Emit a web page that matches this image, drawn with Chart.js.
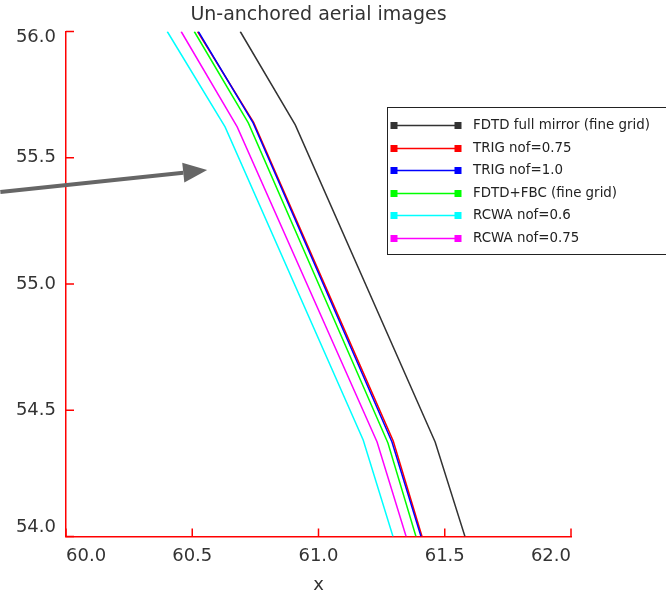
<!DOCTYPE html>
<html>
<head>
<meta charset="utf-8">
<script src="https://cdn.jsdelivr.net/npm/chart.js@4.4.0/dist/chart.umd.min.js"></script>
<style>
  html, body { margin: 0; padding: 0; background: #fff; }
</style>
</head>
<body>
<canvas id="chart" width="666" height="596"></canvas>
<script>
'use strict';

// Axis ticks
const xTicks = [60.0, 60.5, 61.0, 61.5, 62.0];
const yTicks = [54.0, 54.5, 55.0, 55.5, 56.0];

// Series names and colours (legend order)
const seriesNames = [
    'FDTD full mirror (fine grid)',
    'TRIG nof=0.75',
    'TRIG nof=1.0',
    'FDTD+FBC (fine grid)',
    'RCWA nof=0.6',
    'RCWA nof=0.75'
];
const seriesColors = ['#333333', '#ff0000', '#0000ff', '#00ff00', '#00ffff', '#ff00ff'];

// Image edge positions
const mirrorX = [60.690, 60.908, 61.462, 61.580];
const mirrorY = [56.0, 55.630, 54.374, 54.0];
const trig075X = [60.521, 60.743, 61.296, 61.410];
const trig075Y = [56.0, 55.640, 54.378, 54.0];
const trig10X = [60.524, 60.741, 61.291, 61.406];
const trig10Y = [56.0, 55.638, 54.374, 54.0];
const fbcX = [60.508, 60.722, 61.275, 61.386];
const fbcY = [56.0, 55.638, 54.370, 54.0];
const rcwa06X = [60.401, 60.630, 61.177, 61.295];
const rcwa06Y = [56.0, 55.622, 54.382, 54.0];
const rcwa075X = [60.456, 60.678, 61.232, 61.347];
const rcwa075Y = [56.0, 55.622, 54.374, 54.0];

// Annotation arrow (data coordinates: tail, tip)
const arrowTail = [59.74, 55.364];
const arrowTip = [60.559, 55.451];

const seriesX = [mirrorX, trig075X, trig10X, fbcX, rcwa06X, rcwa075X];
const seriesY = [mirrorY, trig075Y, trig10Y, fbcY, rcwa06Y, rcwa075Y];

const FONT = '"DejaVu Sans", sans-serif';
const TEXT = '#333333';

function toPoints(xs, ys) {
    return xs.map((x, i) => ({ x: x, y: ys[i] }));
}

const datasets = seriesNames.map((name, i) => ({
    label: name,
    data: toPoints(seriesX[i], seriesY[i]),
    borderColor: seriesColors[i],
    backgroundColor: seriesColors[i],
    borderWidth: 1.5,
    pointRadius: 0,
    tension: 0,
    order: seriesNames.length - i
}));

// Inward red ticks and the y labels
const axisTicks = {
    id: 'axisTicks',
    afterDraw(chart) {
        const { ctx, chartArea: area, scales: { x, y } } = chart;
        ctx.save();
        ctx.strokeStyle = '#ff0000';
        ctx.lineWidth = 1.5;
        ctx.beginPath();
        xTicks.forEach(v => {
            const px = x.getPixelForValue(v);
            ctx.moveTo(px, area.bottom);
            ctx.lineTo(px, area.bottom - 8);
        });
        yTicks.forEach(v => {
            const py = y.getPixelForValue(v);
            ctx.moveTo(area.left, py);
            ctx.lineTo(area.left + 8, py);
        });
        ctx.stroke();

        ctx.fillStyle = TEXT;
        ctx.font = '18px ' + FONT;
        ctx.textAlign = 'right';
        ctx.textBaseline = 'middle';
        yTicks.forEach((v, i) => {
            let py = y.getPixelForValue(v);
            if (i === 0) py -= 9;
            if (i === yTicks.length - 1) py += 6;
            ctx.fillText(v.toFixed(1), area.left - 10, py);
        });
        ctx.restore();
    }
};

// Gray arrow pointing at the curves
const arrowPlugin = {
    id: 'arrow',
    afterDraw(chart) {
        const { ctx, scales: { x, y } } = chart;
        const x0 = x.getPixelForValue(arrowTail[0]);
        const y0 = y.getPixelForValue(arrowTail[1]);
        const x1 = x.getPixelForValue(arrowTip[0]);
        const y1 = y.getPixelForValue(arrowTip[1]);
        const ang = Math.atan2(y1 - y0, x1 - x0);
        const headLen = 24;
        const headW = 10;
        const bx = x1 - headLen * Math.cos(ang);
        const by = y1 - headLen * Math.sin(ang);
        ctx.save();
        ctx.strokeStyle = '#666666';
        ctx.fillStyle = '#666666';
        ctx.lineWidth = 4;
        ctx.beginPath();
        ctx.moveTo(x0, y0);
        ctx.lineTo(bx, by);
        ctx.stroke();
        ctx.beginPath();
        ctx.moveTo(x1, y1);
        ctx.lineTo(bx + headW * Math.sin(ang), by - headW * Math.cos(ang));
        ctx.lineTo(bx - headW * Math.sin(ang), by + headW * Math.cos(ang));
        ctx.closePath();
        ctx.fill();
        ctx.restore();
    }
};

// Boxed legend with a line and two square markers per entry
const boxLegend = {
    id: 'boxLegend',
    afterDraw(chart) {
        const { ctx } = chart;
        const left = 387, top = 107, rowH = 22.6, firstRow = 125;
        ctx.save();
        ctx.fillStyle = '#ffffff';
        ctx.fillRect(left, top, 300, 147);
        ctx.strokeStyle = '#222222';
        ctx.lineWidth = 1;
        ctx.strokeRect(left + 0.5, top + 0.5, 300, 147);
        ctx.font = '13.4px ' + FONT;
        ctx.textAlign = 'left';
        ctx.textBaseline = 'middle';
        chart.data.datasets.forEach((ds, i) => {
            const ry = Math.round(firstRow + i * rowH) + 0.5;
            ctx.strokeStyle = ds.borderColor;
            ctx.fillStyle = ds.borderColor;
            ctx.lineWidth = 1.5;
            ctx.beginPath();
            ctx.moveTo(394, ry);
            ctx.lineTo(458, ry);
            ctx.stroke();
            ctx.fillRect(390.5, ry - 3.5, 7, 7);
            ctx.fillRect(454.5, ry - 3.5, 7, 7);
            ctx.fillStyle = '#222222';
            ctx.fillText(ds.label, 473, ry);
        });
        ctx.restore();
    }
};

new Chart(document.getElementById('chart'), {
    type: 'line',
    data: { datasets: datasets },
    plugins: [axisTicks, arrowPlugin, boxLegend],
    options: {
        responsive: false,
        animation: false,
        layout: { padding: { left: 0, right: 95, top: 0, bottom: 0 } },
        plugins: {
            legend: { display: false },
            tooltip: { enabled: false },
            title: {
                display: true,
                fullSize: false,
                text: 'Un-anchored aerial images',
                color: TEXT,
                font: { family: FONT, size: 19, weight: 'normal', lineHeight: 1.2 },
                padding: { top: 3.7, bottom: 5 }
            }
        },
        scales: {
            x: {
                type: 'linear',
                min: 60,
                max: 62,
                afterBuildTicks: s => { s.ticks = xTicks.map(v => ({ value: v })); },
                afterFit: s => { s.height = 59.5; },
                grid: { display: false, drawTicks: false },
                border: { color: '#ff0000', width: 1.5 },
                ticks: {
                    align: 'inner',
                    padding: 9,
                    autoSkip: false,
                    maxRotation: 0,
                    color: TEXT,
                    font: { family: FONT, size: 18 },
                    callback: v => v.toFixed(1)
                },
                title: {
                    display: true,
                    text: 'x',
                    color: TEXT,
                    font: { family: FONT, size: 18 },
                    padding: { top: 0, bottom: 0 }
                }
            },
            y: {
                type: 'linear',
                min: 54,
                max: 56,
                afterBuildTicks: s => { s.ticks = yTicks.map(v => ({ value: v })); },
                afterFit: s => { s.width = 66; },
                grid: { display: false, drawTicks: false },
                border: { color: '#ff0000', width: 1.5 },
                ticks: { display: false }
            }
        }
    }
});
</script>
</body>
</html>
